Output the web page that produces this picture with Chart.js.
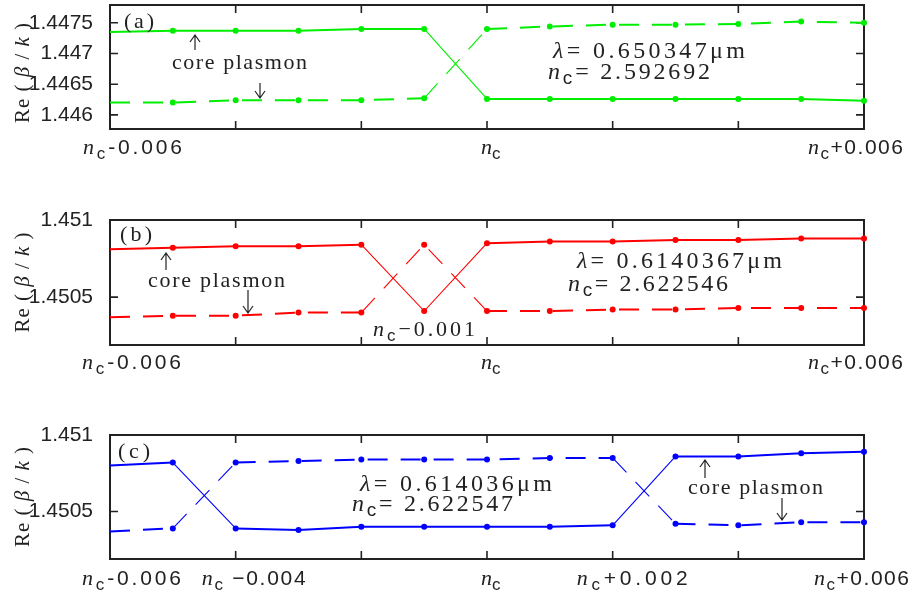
<!DOCTYPE html>
<html lang="en">
<head>
<meta charset="UTF-8">
<title>Re(beta/k) near the crossing index</title>
<script src="https://cdn.jsdelivr.net/npm/chart.js"></script>
<style>
    body { margin: 0; background: #fff; }
    .panel { position: absolute; left: 0; }
</style>
</head>
<body>
<canvas id="chart-a" class="panel" style="top:0px" width="916" height="190"></canvas>
<canvas id="chart-b" class="panel" style="top:190px" width="916" height="210"></canvas>
<canvas id="chart-c" class="panel" style="top:400px" width="916" height="195"></canvas>
<script>
// offsets from n_c along the x axis
const xSteps = [-0.006, -0.005, -0.004, -0.003, -0.002, -0.001, 0, 0.001, 0.002, 0.003, 0.004, 0.005, 0.006];
const xTickSteps = [-0.006, -0.004, -0.002, 0, 0.002, 0.004, 0.006];

// (a) lambda = 0.650347 um
const aSolid  = [1.44735, 1.44737, 1.44737, 1.44737, 1.44740, 1.44740, 1.44626, 1.44626, 1.44626, 1.44626, 1.44626, 1.44626, 1.44623];
const aDashed = [1.44620, 1.44620, 1.44624, 1.44624, 1.44624, 1.44627, 1.44740, 1.44744, 1.44747, 1.44747, 1.44748, 1.44752, 1.44750];
const yTicksA = [1.446, 1.4465, 1.447, 1.4475];

// (b) lambda = 0.6140367 um
const bSolid  = [1.45081, 1.45082, 1.45083, 1.45083, 1.45084, 1.45041, 1.45085, 1.45086, 1.45086, 1.45087, 1.45087, 1.45088, 1.45088];
const bDashed = [1.45037, 1.45038, 1.45038, 1.45040, 1.45040, 1.45084, 1.45041, 1.45041, 1.45042, 1.45042, 1.45043, 1.45043, 1.45043];

// (c) lambda = 0.614036 um
const cSolid  = [1.45080, 1.45082, 1.45039, 1.45038, 1.45040, 1.45040, 1.45040, 1.45040, 1.45041, 1.45086, 1.45086, 1.45088, 1.45089];
const cDashed = [1.45037, 1.45039, 1.45082, 1.45083, 1.45084, 1.45084, 1.45084, 1.45085, 1.45085, 1.45042, 1.45041, 1.45043, 1.45043];
const yTicksBC = [1.4505, 1.451];

// x tick labels (text after "n_c")
const xLabelsAB = [[-0.006, '-0.006'], [0, ''], [0.006, '+0.006']];
const xLabelsC = [[-0.006, '-0.006'], [-0.004, ' \u22120.004'], [0, ''], [0.002, '+0.002'], [0.006, '+0.006']];

const SERIF = '"Liberation Serif", "Times New Roman", serif';
const SANS = '"Liberation Sans", Arial, sans-serif';
const INK = '#222';

// draw a list of [text, font, dy] runs char by char, stretched to a target width
function drawRuns(ctx, x, y, runs, target) {
    let natural = 0, count = 0;
    for (const [t, f] of runs) {
        ctx.font = f;
        for (const ch of t) { natural += ctx.measureText(ch).width; count++; }
    }
    const gap = target && count > 1 ? (target - natural) / (count - 1) : 0;
    let cx = x;
    for (const [t, f, dy] of runs) {
        ctx.font = f;
        for (const ch of t) {
            ctx.fillText(ch, cx, y + (dy || 0));
            cx += ctx.measureText(ch).width + gap;
        }
    }
}

// thin vertical arrow with an open head at yHead
function drawArrow(ctx, x, yTail, yHead) {
    const dir = yHead < yTail ? 1 : -1;
    ctx.beginPath();
    ctx.moveTo(x, yTail); ctx.lineTo(x, yHead);
    ctx.moveTo(x - 5, yHead + dir * 7); ctx.lineTo(x, yHead); ctx.lineTo(x + 5, yHead + dir * 7);
    ctx.stroke();
}

function ncRuns(rest, restFont, size) {
    return [['n', `italic ${size}px ${SERIF}`, 0], ['c', `${size - 5}px ${SANS}`, 6], [rest, restFont, 0]];
}

const framePlugin = {
    id: 'frame',
    beforeDatasetsDraw(chart, args, opts) {
        const { ctx, chartArea: a, scales: { x, y } } = chart;
        ctx.save();
        ctx.strokeStyle = INK;
        ctx.lineWidth = 2;
        ctx.strokeRect(a.left, a.top, a.right - a.left, a.bottom - a.top);
        ctx.lineWidth = 1.6;
        ctx.beginPath();
        for (const v of xTickSteps) {
            const px = x.getPixelForValue(v);
            ctx.moveTo(px, a.bottom); ctx.lineTo(px, a.bottom - 8);
            ctx.moveTo(px, a.top); ctx.lineTo(px, a.top + 8);
        }
        for (const v of opts.yTicks) {
            const py = y.getPixelForValue(v);
            ctx.moveTo(a.left, py); ctx.lineTo(a.left + 8, py);
            ctx.moveTo(a.right, py); ctx.lineTo(a.right - 8, py);
        }
        ctx.stroke();
        ctx.restore();
    },
    afterDraw(chart, args, opts) {
        const { ctx, chartArea: a, scales: { x } } = chart;
        ctx.save();
        ctx.fillStyle = INK;
        ctx.strokeStyle = INK;
        ctx.lineWidth = 1.2;
        ctx.textBaseline = 'middle';
        ctx.textAlign = 'left';

        // x tick labels
        opts.xLabels.forEach(([v, rest], i) => {
            const px = x.getPixelForValue(v) + opts.xShift[i];
            drawRuns(ctx, px, a.bottom + opts.xLabelGap, ncRuns(rest, `21px ${SANS}`, 22), opts.xWidth[i]);
        });

        // y axis title
        ctx.save();
        ctx.translate(23, (a.top + a.bottom) / 2 + opts.titleShift);
        ctx.rotate(-Math.PI / 2);
        drawRuns(ctx, -50, 0, [
            ['Re ( ', `21px ${SERIF}`, 0], ['\u03b2', `italic 21px ${SERIF}`, 0],
            [' / ', `21px ${SERIF}`, 0], ['k', `italic 21px ${SERIF}`, 0], [' )', `21px ${SERIF}`, 0]
        ], 100);
        ctx.restore();

        // annotations
        for (const n of opts.notes) {
            if (n.arrow) drawArrow(ctx, ...n.arrow);
            else drawRuns(ctx, n.x, n.y, n.runs, n.w);
        }
        ctx.restore();
    }
};

function makePanel(id, color, solid, dashed, yMin, yMax, yTicks, pad, frameOpts) {
    const pts = vals => xSteps.map((s, i) => ({ x: s, y: vals[i] }));
    const radius = xSteps.map((s, i) => (i === 0 ? 0 : 3));
    const seg = { borderWidth: c => (Math.abs(c.p0.parsed.y - c.p1.parsed.y) > 0.0002 ? 1.1 : 2) };
    const common = {
        borderColor: color, backgroundColor: color, pointBackgroundColor: color,
        pointBorderWidth: 0, pointRadius: radius, borderWidth: 2, tension: 0, clip: false, segment: seg
    };
    return new Chart(document.getElementById(id), {
        type: 'line',
        data: {
            datasets: [
                Object.assign({ data: pts(solid) }, common),
                Object.assign({ data: pts(dashed), borderDash: [20, 13] }, common)
            ]
        },
        options: {
            responsive: false,
            animation: false,
            events: [],
            layout: { padding: { left: 0, right: 52, top: pad.top, bottom: 0 } },
            scales: {
                x: {
                    type: 'linear', min: -0.006, max: 0.006,
                    grid: { display: false }, border: { display: false },
                    ticks: { display: false },
                    afterFit: s => { s.height = pad.bottom; }
                },
                y: {
                    min: yMin, max: yMax,
                    grid: { display: false }, border: { display: false },
                    afterBuildTicks: s => { s.ticks = yTicks.map(v => ({ value: v })); },
                    ticks: {
                        color: INK, padding: 9,
                        font: { family: '"Liberation Sans", Arial, sans-serif', size: 21 },
                        callback: v => String(v)
                    },
                    afterFit: s => {
                        s.width = 110;
                        s.paddingTop = 0;
                        s.paddingBottom = 0;
                    }
                }
            },
            plugins: {
                legend: { display: false },
                tooltip: { enabled: false },
                frame: Object.assign({ yTicks: yTicks }, frameOpts)
            }
        },
        plugins: [framePlugin]
    });
}

const S22 = `22px ${SERIF}`;
const S24 = `24px ${SERIF}`;
const I24 = `italic 24px ${SERIF}`;

makePanel('chart-a', '#00ee00', aSolid, aDashed, 1.44577, 1.44779, yTicksA,
    { top: 5, bottom: 61 },
    {
        xLabels: xLabelsAB, xShift: [-27, -6, -56], xWidth: [99, 0, 95], xLabelGap: 19, titleShift: 6,
        notes: [
            { x: 124, y: 22, runs: [['(a)', S22, 0]], w: 30 },
            { arrow: [195, 50, 35] },
            { x: 172, y: 63, runs: [['core plasmon', S22, 0]], w: 135 },
            { arrow: [260, 83, 98] },
            { x: 553, y: 52, runs: [['\u03bb', I24, 0], ['= 0.650347\u03bcm', S24, 0]], w: 192 },
            { x: 548, y: 73, runs: ncRuns('= 2.592692', S24, 24), w: 162 }
        ]
    });

makePanel('chart-b', '#ff0000', bSolid, bDashed, 1.45019, 1.451, yTicksBC,
    { top: 30, bottom: 55 },
    {
        xLabels: xLabelsAB, xShift: [-28, -6, -56], xWidth: [99, 0, 95], xLabelGap: 18, titleShift: 0,
        notes: [
            { x: 120, y: 45, runs: [['(b)', S22, 0]], w: 32 },
            { arrow: [166, 80, 63] },
            { x: 148, y: 91, runs: [['core plasmon', S22, 0]], w: 137 },
            { arrow: [248, 100, 123] },
            { x: 373, y: 140, runs: ncRuns('\u22120.001', S22, 22), w: 102 },
            { x: 577, y: 72, runs: [['\u03bb', I24, 0], ['= 0.6140367\u03bcm', S24, 0]], w: 205 },
            { x: 568, y: 95, runs: ncRuns('= 2.622546', S24, 24), w: 160 }
        ]
    });

makePanel('chart-c', '#0000ff', cSolid, cDashed, 1.45019, 1.451, yTicksBC,
    { top: 35, bottom: 36 },
    {
        xLabels: xLabelsC, xShift: [-28, -34, -6, -36, -50], xWidth: [99, 104, 0, 111, 95], xLabelGap: 20, titleShift: 0,
        notes: [
            { x: 118, y: 52, runs: [['(c)', S22, 0]], w: 32 },
            { x: 360, y: 85, runs: [['\u03bb', I24, 0], ['= 0.614036\u03bcm', S24, 0]], w: 192 },
            { x: 352, y: 105, runs: ncRuns('= 2.622547', S24, 24), w: 161 },
            { arrow: [705, 78, 60] },
            { x: 688, y: 88, runs: [['core plasmon', S22, 0]], w: 135 },
            { arrow: [782, 98, 120] }
        ]
    });
</script>
</body>
</html>
